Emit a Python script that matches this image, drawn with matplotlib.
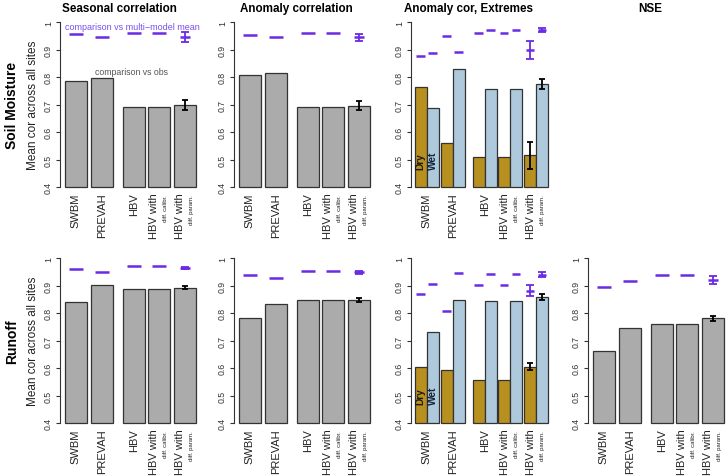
import numpy as np
import matplotlib.pyplot as plt

plt.rcParams['font.family'] = ['Liberation Sans', 'DejaVu Sans']

# bar labels
models = ['SWBM', 'PREVAH', 'HBV', 'HBV with', 'HBV with']
notes = ['', '', '', 'diff. calibr.', 'diff. param.']
xpos = np.array([0, 1, 2.23, 3.2, 4.2])

# soil moisture: seasonal correlation
sm_seas_obs = [0.788, 0.799, 0.693, 0.693, 0.699]
sm_seas_obs_err = 0.019
sm_seas_mmm = [0.958, 0.946, 0.962, 0.962, 0.946]
sm_seas_mmm_err = 0.018
# soil moisture: anomaly correlation
sm_anom_obs = [0.808, 0.817, 0.691, 0.691, 0.697]
sm_anom_obs_err = 0.017
sm_anom_mmm = [0.954, 0.948, 0.960, 0.960, 0.945]
sm_anom_mmm_err = 0.012
# soil moisture: extremes (dry / wet)
sm_dry_obs = [0.766, 0.560, 0.510, 0.510, 0.516]
sm_dry_obs_err = 0.048
sm_wet_obs = [0.688, 0.831, 0.758, 0.758, 0.775]
sm_wet_obs_err = 0.018
sm_dry_mmm = [0.876, 0.952, 0.961, 0.961, 0.900]
sm_dry_mmm_err = 0.033
sm_wet_mmm = [0.887, 0.891, 0.973, 0.973, 0.973]
sm_wet_mmm_err = 0.007

# runoff: seasonal correlation
ro_seas_obs = [0.842, 0.904, 0.889, 0.889, 0.893]
ro_seas_obs_err = 0.005
ro_seas_mmm = [0.961, 0.949, 0.973, 0.973, 0.966]
ro_seas_mmm_err = 0.003
# runoff: anomaly correlation
ro_anom_obs = [0.784, 0.834, 0.848, 0.848, 0.849]
ro_anom_obs_err = 0.006
ro_anom_mmm = [0.939, 0.930, 0.955, 0.955, 0.949]
ro_anom_mmm_err = 0.006
# runoff: extremes (dry / wet)
ro_dry_obs = [0.604, 0.595, 0.556, 0.556, 0.606]
ro_dry_obs_err = 0.013
ro_wet_obs = [0.733, 0.848, 0.845, 0.845, 0.859]
ro_wet_obs_err = 0.011
ro_dry_mmm = [0.870, 0.807, 0.902, 0.902, 0.882]
ro_dry_mmm_err = 0.02
ro_wet_mmm = [0.906, 0.946, 0.944, 0.944, 0.941]
ro_wet_mmm_err = 0.008
# runoff: NSE
ro_nse_obs = [0.662, 0.745, 0.762, 0.762, 0.782]
ro_nse_obs_err = 0.009
ro_nse_mmm = [0.897, 0.919, 0.939, 0.939, 0.922]
ro_nse_mmm_err = 0.014

purple = '#6a2ae6'
grey = '#ababab'
dry_col = '#b8901f'
wet_col = '#aec8dc'
edge = '#333333'

W, H = 727, 477
fig = plt.figure(figsize=(W / 100, H / 100), dpi=100)


def make_ax(left_px, top_px, bottom_px):
    ax = fig.add_axes([left_px / W, 1 - bottom_px / H, 138 / W, (bottom_px - top_px) / H])
    ax.set_xlim(-0.6, 4.7)
    ax.set_ylim(0.4, 1.0)
    for s in ['top', 'right', 'bottom']:
        ax.spines[s].set_visible(False)
    ax.spines['left'].set_color(edge)
    ax.spines['left'].set_linewidth(0.8)
    ax.set_xticks([])
    ax.set_yticks([0.4, 0.5, 0.6, 0.7, 0.8, 0.9, 1.0])
    ax.set_yticklabels(['0.4', '0.5', '0.6', '0.7', '0.8', '0.9', '1'],
                       rotation=90, va='center', fontsize=6.3, color='#333333')
    ax.tick_params(axis='y', length=3, pad=2, width=0.8, color=edge)
    # model names under the bars
    tr = ax.get_xaxis_transform()
    for x, m, n in zip(xpos, models, notes):
        if n:
            ax.text(x - 0.2, -0.032, m, rotation=90, ha='center', va='top',
                    fontsize=8, color='#222222', transform=tr)
            ax.text(x + 0.25, -0.045, n, rotation=90, ha='center', va='top',
                    fontsize=4.3, color='#222222', transform=tr)
        else:
            ax.text(x, -0.032, m, rotation=90, ha='center', va='top',
                    fontsize=8, color='#222222', transform=tr)
    return ax


def marks(ax, xs, vals, err, half, col, lw, capsize):
    ax.hlines(vals, xs - half, xs + half, color=col, lw=lw)
    ax.errorbar(xs[-1], vals[-1], yerr=err, fmt='none', ecolor=col,
                elinewidth=1.3, capsize=capsize, capthick=1.3)


def single_panel(ax, obs, obs_err, mmm, mmm_err):
    obs = np.array(obs)
    ax.bar(xpos, obs - 0.4, bottom=0.4, width=0.85, color=grey,
           edgecolor=edge, linewidth=0.9, clip_on=False)
    ax.errorbar(xpos[-1], obs[-1], yerr=obs_err, fmt='none', ecolor='black',
                elinewidth=1.3, capsize=2.5, capthick=1.3)
    mmm = np.array(mmm)
    ax.hlines(mmm[:-1], xpos[:-1] - 0.27, xpos[:-1] + 0.27, color=purple, lw=1.8)
    ax.hlines(mmm[-1], xpos[-1] - 0.2, xpos[-1] + 0.2, color=purple, lw=1.8)
    ax.errorbar(xpos[-1], mmm[-1], yerr=mmm_err, fmt='none', ecolor=purple,
                elinewidth=1.3, capsize=3.2, capthick=1.3)


def extreme_panel(ax, dry, dry_err, wet, wet_err, dry_m, dry_m_err, wet_m, wet_m_err):
    xd = xpos - 0.23
    xw = xpos + 0.23
    dry = np.array(dry)
    wet = np.array(wet)
    ax.bar(xd, dry - 0.4, bottom=0.4, width=0.46, color=dry_col,
           edgecolor=edge, linewidth=0.9, clip_on=False)
    ax.bar(xw, wet - 0.4, bottom=0.4, width=0.46, color=wet_col,
           edgecolor=edge, linewidth=0.9, clip_on=False)
    ax.errorbar(xd[-1], dry[-1], yerr=dry_err, fmt='none', ecolor='black',
                elinewidth=1.3, capsize=2.5, capthick=1.3)
    ax.errorbar(xw[-1], wet[-1], yerr=wet_err, fmt='none', ecolor='black',
                elinewidth=1.3, capsize=2.5, capthick=1.3)
    for xs, m, e in [(xd, dry_m, dry_m_err), (xw, wet_m, wet_m_err)]:
        m = np.array(m)
        ax.hlines(m, xs - 0.17, xs + 0.17, color=purple, lw=1.8)
        ax.errorbar(xs[-1], m[-1], yerr=e, fmt='none', ecolor=purple,
                    elinewidth=1.3, capsize=3.0, capthick=1.3)
    ax.text(xd[0], 0.468, 'Dry', rotation=90, ha='center', va='bottom',
            fontsize=7.3, fontweight='bold', color='#1a1a1a')
    ax.text(xw[0], 0.468, 'Wet', rotation=90, ha='center', va='bottom',
            fontsize=7.3, fontweight='bold', color='#15233a')


top_row = (23.3, 188.3)
bot_row = (259.5, 424.0)

# soil moisture row
ax1 = make_ax(60, *top_row)
single_panel(ax1, sm_seas_obs, sm_seas_obs_err, sm_seas_mmm, sm_seas_mmm_err)
ax1.text(-0.41, 0.985, 'comparison vs multi\u2212model mean', color='#7a4ef0',
         fontsize=6.5, ha='left', va='center')
ax1.text(2.15, 0.822, 'comparison vs obs', color='#555555',
         fontsize=6.3, ha='center', va='center')

ax2 = make_ax(234, *top_row)
single_panel(ax2, sm_anom_obs, sm_anom_obs_err, sm_anom_mmm, sm_anom_mmm_err)

ax3 = make_ax(411, *top_row)
extreme_panel(ax3, sm_dry_obs, sm_dry_obs_err, sm_wet_obs, sm_wet_obs_err,
              sm_dry_mmm, sm_dry_mmm_err, sm_wet_mmm, sm_wet_mmm_err)

# runoff row
ax5 = make_ax(60, *bot_row)
single_panel(ax5, ro_seas_obs, ro_seas_obs_err, ro_seas_mmm, ro_seas_mmm_err)

ax6 = make_ax(234, *bot_row)
single_panel(ax6, ro_anom_obs, ro_anom_obs_err, ro_anom_mmm, ro_anom_mmm_err)

ax7 = make_ax(411, *bot_row)
extreme_panel(ax7, ro_dry_obs, ro_dry_obs_err, ro_wet_obs, ro_wet_obs_err,
              ro_dry_mmm, ro_dry_mmm_err, ro_wet_mmm, ro_wet_mmm_err)

ax8 = make_ax(588, *bot_row)
single_panel(ax8, ro_nse_obs, ro_nse_obs_err, ro_nse_mmm, ro_nse_mmm_err)

# column titles
titles = ['Seasonal correlation', 'Anomaly correlation', 'Anomaly cor, Extremes', 'NSE']
for t, xc in zip(titles, [119, 296, 469, 650]):
    fig.text(xc / W, 1 - 9 / H, t, ha='center', va='center',
             fontsize=8.4, fontweight='bold')

# row labels
for name, yc in [('Soil Moisture', 105.8), ('Runoff', 341.8)]:
    fig.text(12.5 / W, 1 - yc / H, name, rotation=90, ha='center', va='center',
             fontsize=10, fontweight='bold')
    fig.text(32.5 / W, 1 - yc / H, 'Mean cor across all sites', rotation=90,
             ha='center', va='center', fontsize=8.5, color='#222222')

fig.savefig('out.png', dpi=100)
